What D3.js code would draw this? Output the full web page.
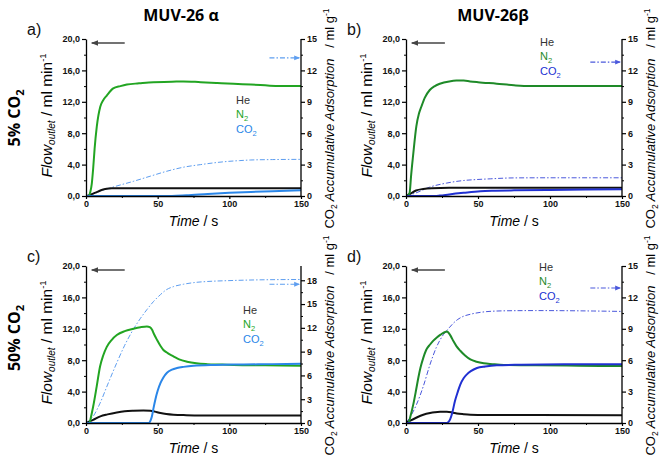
<!DOCTYPE html>
<html><head><meta charset="utf-8">
<script src="https://cdn.jsdelivr.net/npm/d3@7"></script>
<style>
body{margin:0;background:#fff;}
svg{font-family:"Liberation Sans",Arial,sans-serif;}
</style></head><body>
<svg id="c" width="661" height="459"></svg>
<script>
// ---------- data (time s, value) ----------
const leftTicks = [0,4,8,12,16,20];
const rightTicks15 = [0,3,6,9,12,15];
const rightTicks18 = [0,3,6,9,12,15,18];
const timeTicks = [0,50,100,150];
const legendLabels = ["He","N2","CO2"];
const titles = ["MUV-26 α","MUV-26β"];
const rowLabels = ["5% CO","50% CO"];

const aN2 = [[0,0],[2,0],[3,0.5],[4,1.5],[5,3.5],[6,6],[7.5,8.8],[10,11.4],[12,12.2],[14.5,12.8],[19,13.7],[24,14.0],[28.5,14.2],[37,14.35],[47,14.5],[60,14.55],[68,14.6],[80,14.5],[91.6,14.4],[103,14.3],[115,14.2],[125,14.1],[135,14.0],[150,14.0]];
const aHe = [[0,0],[3,0.15],[5,0.3],[7.5,0.5],[10,0.7],[12,0.82],[14.5,0.93],[18,0.98],[25,1.0],[150,1.0]];
const aCO2 = [[0,0],[60,0],[70,0.08],[85,0.25],[100,0.4],[115,0.52],[130,0.62],[150,0.72]];
const aAds = [[0,0],[5,0.2],[10,0.47],[20,0.9],[33,1.4],[45,1.9],[56.5,2.37],[68,2.75],[80,3.0],[90,3.18],[98.6,3.3],[107,3.38],[115,3.44],[130,3.48],[150,3.5]];

const bN2 = [[0,0],[2,0.2],[2.6,0.5],[3.5,2.5],[4.9,5.1],[7.2,8.9],[9,10.5],[10.7,11.4],[13,12.5],[16.5,13.5],[20,14.0],[23.5,14.3],[30,14.6],[35,14.7],[40,14.7],[44.5,14.6],[50,14.5],[63,14.3],[75,14.1],[86,14.0],[100,14.0],[120,14.0],[150,14.0]];
const bHe = [[0,0],[3,0.3],[7,0.7],[12,0.9],[18,1.0],[30,1.05],[150,1.05]];
const bCO2 = [[0,0],[20,0],[23.5,0.05],[30,0.2],[40,0.4],[51.5,0.6],[62,0.67],[75,0.72],[100,0.78],[125,0.82],[150,0.85]];
const bAds = [[0,0],[7,0.3],[16.5,0.85],[28,1.23],[40,1.48],[50,1.58],[58.5,1.64],[75,1.73],[100,1.74],[150,1.74]];

const cN2 = [[0,0],[2.3,0],[3.5,0.8],[5,2.1],[7.5,4.7],[9.8,7.2],[12,8.6],[14.5,9.7],[18,10.6],[21.5,11.2],[27,11.7],[33,12.0],[38,12.2],[42.5,12.3],[44.5,12.2],[46,11.9],[47.5,11.3],[49.5,10.6],[52,9.8],[54,9.3],[57,8.9],[61,8.5],[65,8.1],[70.5,7.8],[77,7.6],[84.5,7.5],[95,7.45],[103,7.4],[125,7.35],[150,7.3]];
const cHe = [[0,0],[5,0.4],[10,0.85],[15,1.1],[21.5,1.35],[27,1.5],[33,1.57],[40,1.6],[45,1.57],[48,1.45],[52,1.27],[56,1.15],[61,1.06],[70,1.0],[80,0.97],[150,0.97]];
const cCO2 = [[0,0],[44,0],[45,0.3],[46,0.85],[47,1.8],[48.4,3.0],[50,4.1],[52,5.1],[54,5.8],[56.5,6.4],[60,6.8],[63.5,7.0],[68,7.15],[75,7.3],[90,7.4],[110,7.45],[130,7.5],[150,7.55]];
const cAds = [[0,0],[5,0.84],[9.8,2.5],[15,4.8],[21.5,7.6],[27,9.8],[33,11.8],[38,13.2],[42.5,14.3],[47,15.3],[52,16.2],[56,16.8],[61,17.2],[68,17.5],[75,17.7],[85,17.85],[98.6,17.95],[120,18.05],[150,18.1]];

const dN2 = [[0,0],[1.6,0],[3,0.8],[5.1,2.4],[7,4.2],[8.6,5.8],[10,7.0],[12,8.3],[14,9.3],[16.7,10.0],[19,10.5],[21.4,10.9],[24,11.25],[27.2,11.6],[28.5,11.65],[29.5,11.5],[31,11.1],[33,10.4],[35,9.8],[37.7,9.2],[41,8.6],[44.7,8.1],[49,7.8],[54,7.6],[60,7.5],[68,7.4],[90,7.35],[120,7.3],[150,7.25]];
const dHe = [[0,0],[3,0.3],[7.4,0.7],[12,1.05],[16.7,1.27],[20,1.37],[23.7,1.43],[28.4,1.43],[32,1.35],[35.3,1.22],[40,1.12],[44.7,1.05],[55,1.01],[150,1.0]];
const dCO2 = [[0,0],[28,0],[29.5,0.15],[30.7,0.5],[32,1.2],[34,2.8],[36,4.0],[37.7,4.9],[40,5.7],[42.3,6.2],[45,6.6],[49.3,7.0],[55,7.2],[63,7.35],[80,7.42],[110,7.48],[150,7.5]];
const dAds = [[0,0],[3,0.6],[7.4,1.8],[12,3.5],[16.7,5.6],[21,7.2],[26,8.45],[30,9.1],[33,9.55],[36,9.9],[40,10.2],[45,10.4],[51.6,10.57],[60,10.68],[75,10.73],[90,10.74],[110,10.73],[130,10.7],[150,10.66]];

// ---------- layout ----------
const svg = d3.select("#c");
const panels = [
 {id:"a", x0:86, x1:301, yb:196, yt:39, rMax:15, rTicks:rightTicks15, he:aHe, n2:aN2, co2:aCO2, ads:aAds,
  cN2:"#22a522", cCO2:"#2a86e8", cAds:"#5e9ef0", leg:[236,100], larrowV:19.5, rarrowV:13.2},
 {id:"b", x0:406, x1:622, yb:196, yt:39, rMax:15, rTicks:rightTicks15, he:bHe, n2:bN2, co2:bCO2, ads:bAds,
  cN2:"#1e8a28", cCO2:"#2030d2", cAds:"#4a58dc", leg:[540,42], larrowV:19.5, rarrowV:12.8},
 {id:"c", x0:86, x1:301, yb:423, yt:266, rMax:19.8, rTicks:rightTicks18, he:cHe, n2:cN2, co2:cCO2, ads:cAds,
  cN2:"#22a522", cCO2:"#2a86e8", cAds:"#5e9ef0", leg:[243,310], larrowV:19.5, rarrowV:17.5},
 {id:"d", x0:406, x1:622, yb:423, yt:266, rMax:15, rTicks:rightTicks15, he:dHe, n2:dN2, co2:dCO2, ads:dAds,
  cN2:"#1e8a28", cCO2:"#2030d2", cAds:"#4a58dc", leg:[539,267], larrowV:19.5, rarrowV:12.9}
];

const defs = svg.append("defs");
function marker(id,color){
  defs.append("marker").attr("id",id).attr("viewBox","0 0 10 10").attr("refX",9).attr("refY",5)
   .attr("markerWidth",5).attr("markerHeight",5).attr("orient","auto")
   .append("path").attr("d","M0,1 L10,5 L0,9 Z").attr("fill",color);
}
marker("mk-gray","#444");

const fmt = d => d3.format(".1f")(d).replace(".",",");

panels.forEach((p,i)=>{
  const x = d3.scaleLinear().domain([0,150]).range([p.x0,p.x1]);
  const yL = d3.scaleLinear().domain([0,20]).range([p.yb,p.yt]);
  const yR = d3.scaleLinear().domain([0,p.rMax]).range([p.yb,p.yt]);
  const g = svg.append("g");
  marker("mk-"+p.id,p.cAds);

  defs.append("clipPath").attr("id","clip-"+p.id).append("rect")
   .attr("x",p.x0).attr("y",p.yt-2).attr("width",p.x1-p.x0).attr("height",p.yb-p.yt+3);

  const lineL = d3.line().x(d=>x(d[0])).y(d=>yL(d[1])).curve(d3.curveMonotoneX);
  const lineR = d3.line().x(d=>x(d[0])).y(d=>yR(d[1])).curve(d3.curveMonotoneX);
  const pl = g.append("g").attr("clip-path",`url(#clip-${p.id})`);
  pl.append("path").attr("d",lineR(p.ads)).attr("fill","none").attr("stroke",p.cAds)
    .attr("stroke-width",1).attr("stroke-dasharray","5,2,1.5,2");
  pl.append("path").attr("d",lineL(p.he)).attr("fill","none").attr("stroke","#111").attr("stroke-width",2);
  pl.append("path").attr("d",lineL(p.n2)).attr("fill","none").attr("stroke",p.cN2).attr("stroke-width",2);
  pl.append("path").attr("d",lineL(p.co2)).attr("fill","none").attr("stroke",p.cCO2).attr("stroke-width",2);

  // axes
  const styleAxis = sel => { sel.selectAll("path,line").attr("stroke","#000").attr("stroke-width",1.2);
    sel.selectAll("text").attr("font-size",9).attr("font-weight","bold").attr("fill","#111"); sel.select(".domain").attr("stroke-width",1.3);};
  const minorL = d3.range(2,20,4), minorR = p.rTicks.slice(0,-1).map(v=>v+1.5).filter(v=>v<p.rMax), minorX=[25,75,125];
  const axL = g.append("g").attr("transform",`translate(${p.x0},0)`)
    .call(d3.axisLeft(yL).tickValues(leftTicks).tickFormat(fmt).tickSize(4).tickSizeOuter(0).tickPadding(2));
  axL.call(styleAxis);
  g.append("g").attr("transform",`translate(${p.x0},0)`).call(d3.axisLeft(yL).tickValues(minorL).tickFormat("").tickSize(2).tickSizeOuter(0))
   .call(s=>{s.select(".domain").remove(); s.selectAll("line").attr("stroke","#000");});
  const axR = g.append("g").attr("transform",`translate(${p.x1},0)`)
    .call(d3.axisRight(yR).tickValues(p.rTicks).tickSize(4).tickSizeOuter(0).tickPadding(2));
  axR.call(styleAxis);
  axR.select(".domain").attr("d",`M0,${p.yb}V${p.yt}`);
  g.append("g").attr("transform",`translate(${p.x1},0)`).call(d3.axisRight(yR).tickValues(minorR).tickFormat("").tickSize(2).tickSizeOuter(0))
   .call(s=>{s.select(".domain").remove(); s.selectAll("line").attr("stroke","#000");});
  const axX = g.append("g").attr("transform",`translate(0,${p.yb})`)
    .call(d3.axisBottom(x).tickValues(timeTicks).tickSize(3).tickSizeOuter(0).tickPadding(2));
  axX.call(styleAxis);
  g.append("g").attr("transform",`translate(0,${p.yb})`).call(d3.axisBottom(x).tickValues(minorX).tickFormat("").tickSize(2).tickSizeOuter(0))
   .call(s=>{s.select(".domain").remove(); s.selectAll("line").attr("stroke","#000");});

  // arrows
  g.append("line").attr("x1",x(27)).attr("x2",x(4)).attr("y1",yL(p.larrowV)).attr("y2",yL(p.larrowV))
   .attr("stroke","#444").attr("stroke-width",1.4).attr("marker-end","url(#mk-gray)");
  g.append("line").attr("x1",x(128)).attr("x2",x(149)).attr("y1",yR(p.rarrowV)).attr("y2",yR(p.rarrowV))
   .attr("stroke",p.cAds).attr("stroke-width",1.2).attr("stroke-dasharray","5,2,1.5,2").attr("marker-end",`url(#mk-${p.id})`);

  // legend
  const cols = ["#333",p.cN2,p.cCO2];
  legendLabels.forEach((l,k)=>{
    const t = g.append("text").attr("x",p.leg[0]).attr("y",p.leg[1]+k*14.3+4).attr("font-size",11).attr("fill",cols[k]);
    if(l==="He") t.text("He");
    else { t.append("tspan").text(l.slice(0,-1)); t.append("tspan").attr("font-size",7.5).attr("dy",3).text("2"); }
  });

  // x label
  const xl = g.append("text").attr("x",(p.x0+p.x1)/2).attr("y",p.yb+30).attr("text-anchor","middle").attr("font-size",14);
  xl.append("tspan").attr("font-style","italic").text("Time");
  xl.append("tspan").text(" / s");

  // left y label
  const cxL = p.x0-34, cy=(p.yt+p.yb)/2-2;
  const yl = g.append("text").attr("transform",`translate(${cxL},${cy}) rotate(-90)`).attr("text-anchor","middle").attr("font-size",15.5);
  yl.append("tspan").attr("font-style","italic").text("Flow");
  yl.append("tspan").attr("font-style","italic").attr("font-size",10).attr("dy",3).text("outlet");
  yl.append("tspan").attr("dy",-3).text(" / ml min");
  yl.append("tspan").attr("font-size",9.5).attr("dy",-6).text("-1");

  // right y label
  const cxR = p.x1+33;
  const yr = g.append("text").attr("transform",`translate(${cxR},${cy+3}) rotate(-90)`).attr("text-anchor","middle")
    .attr("font-size",13).style("white-space","pre");
  yr.append("tspan").text("CO");
  yr.append("tspan").attr("font-size",8.5).attr("dy",3).text("2");
  yr.append("tspan").attr("dy",-3).attr("font-style","italic").text(" Accumulative Adsorption");
  yr.append("tspan").text("   / ml g");
  yr.append("tspan").attr("font-size",8.5).attr("dy",-5).text("-1");

  // panel letter
  svg.append("text").attr("x",p.x0-59).attr("y",p.yt-4).attr("font-size",16).attr("fill","#111").text(p.id+")");
});

// titles
svg.append("text").attr("x",181).attr("y",21).attr("text-anchor","middle").attr("font-family","'Open Sans',sans-serif")
  .attr("font-weight","bold").attr("font-size",16).text(titles[0]);
svg.append("text").attr("x",493).attr("y",21).attr("text-anchor","middle").attr("font-family","'Open Sans',sans-serif")
  .attr("font-weight","bold").attr("font-size",16).text(titles[1]);

// row labels
[[118,rowLabels[0]],[338,rowLabels[1]]].forEach(([cy,lab])=>{
  const t = svg.append("text").attr("transform",`translate(20,${cy}) rotate(-90)`).attr("text-anchor","middle")
   .attr("font-family","'Open Sans',sans-serif").attr("font-weight","bold").attr("font-size",16);
  t.append("tspan").text(lab);
  t.append("tspan").attr("font-size",11).attr("dy",4).text("2");
});
</script>
</body></html>
